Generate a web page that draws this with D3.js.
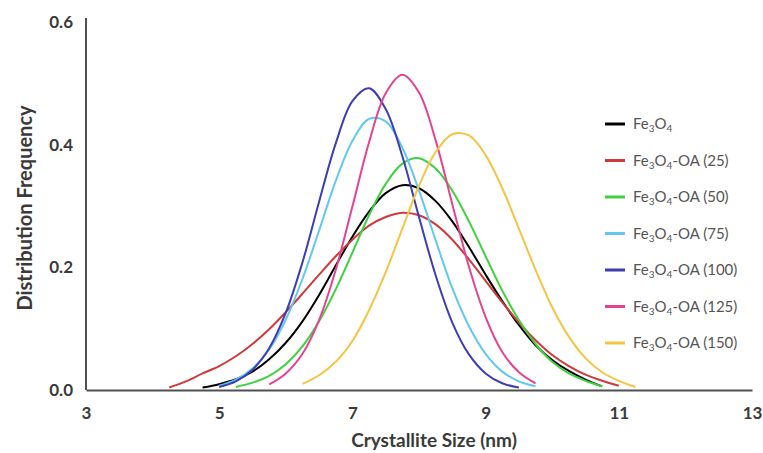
<!DOCTYPE html>
<html>
<head>
<meta charset="utf-8">
<script src="https://cdn.jsdelivr.net/npm/d3@7"></script>
<style>
  body { margin: 0; background: #fff; }
  text { font-family: Lato, "Open Sans", sans-serif; }
</style>
</head>
<body>
<div id="container"></div>
<script>
/* CONSTANTS AND GLOBALS */
const width = 763;
const height = 453;
const margin = {top: 22, bottom: 63, left: 86, right: 10};

/* DATA */
const sizes = [4.25, 4.5, 4.75, 5, 5.25, 5.5, 5.75, 6, 6.25, 6.5, 6.75, 7, 7.25, 7.5, 7.75,
  8, 8.25, 8.5, 8.75, 9, 9.25, 9.5, 9.75, 10, 10.25, 10.5, 10.75, 11, 11.25];

const fe3o4 = [null, null, .004, .0095, .0175, .030, .050, .077, .112, .155, .203, .250, .291, .321, .334,
  .329, .308, .275, .233, .188, .145, .106, .073, .049, .031, .017, .006, null, null];
const oa25 = [.004, .014, .027, .039, .055, .075, .099, .127, .157, .188, .218, .245, .268, .282, .289,
  .285, .270, .245, .213, .178, .143, .110, .081, .057, .039, .025, .015, .007, null];
const oa50 = [null, null, null, null, .005, .012, .023, .042, .071, .112, .164, .224, .285, .336, .369,
  .378, .361, .325, .275, .218, .162, .114, .075, .046, .027, .015, .006, null, null];
const oa75 = [null, null, null, .007, .017, .035, .066, .115, .181, .260, .341, .406, .442, .438, .395,
  .325, .244, .166, .104, .059, .030, .014, .006, null, null, null, null, null, null];
const oa100 = [null, null, null, .005, .014, .033, .068, .126, .208, .307, .402, .471, .492, .458, .381,
  .282, .187, .110, .058, .027, .011, .004, null, null, null, null, null, null, null];
const oa125 = [null, null, null, null, null, null, .009, .027, .059, .114, .196, .299, .404, .484, .514,
  .485, .407, .303, .201, .119, .062, .029, .011, null, null, null, null, null, null];
const oa150 = [null, null, null, null, null, null, null, null, .010, .024, .046, .080, .130, .192, .263,
  .333, .388, .417, .415, .383, .329, .263, .196, .135, .087, .052, .029, .015, .005];

const seriesNames = ["", "-OA (25)", "-OA (50)", "-OA (75)", "-OA (100)", "-OA (125)", "-OA (150)"];
const seriesValues = [fe3o4, oa25, oa50, oa75, oa100, oa125, oa150];
const colors = ["#000000", "#d03a3a", "#3fd03f", "#62c8f2", "#3d3db4", "#e4448f", "#f4c443"];

const xTicks = [3, 5, 7, 9, 11, 13];
const yTicks = [0, 0.2, 0.4, 0.6];

/* SCALES */
const xScale = d3.scaleLinear()
  .domain([3, 13])
  .range([margin.left, width - margin.right - 1]);

const yScale = d3.scaleLinear()
  .domain([0, 0.6])
  .range([height - margin.bottom, margin.top]);

/* SVG */
const svg = d3.select("#container")
  .append("svg")
  .attr("width", width)
  .attr("height", height)
  .style("background-color", "white");

// axes
const xAxisGroup = svg.append("g")
  .attr("transform", `translate(0,${height - margin.bottom})`)
  .call(d3.axisBottom(xScale).tickValues(xTicks).tickSize(0).tickPadding(17).tickFormat(d3.format("d")));

const yAxisGroup = svg.append("g")
  .attr("transform", `translate(${margin.left},0)`)
  .call(d3.axisLeft(yScale).tickValues(yTicks).tickSize(0).tickPadding(13).tickFormat(d3.format(".1f")));

[xAxisGroup, yAxisGroup].forEach(g => {
  g.select(".domain").attr("stroke", "#505050").attr("stroke-width", 2);
  g.selectAll("text")
    .attr("fill", "#3a3a3a")
    .style("font-size", "17px")
    .style("font-weight", "bold");
});
yAxisGroup.select(".domain").attr("d", `M0,${yScale(0)}V${margin.top - 4}`);

// axis titles
svg.append("text")
  .attr("x", 434)
  .attr("y", 447)
  .attr("text-anchor", "middle")
  .attr("fill", "#3a3a3a")
  .style("font-size", "19px")
  .style("font-weight", "bold")
  .text("Crystallite Size (nm)");

svg.append("text")
  .attr("transform", "translate(32,208) rotate(-90)")
  .attr("text-anchor", "middle")
  .attr("fill", "#3a3a3a")
  .style("font-size", "20px")
  .style("font-weight", "bold")
  .text("Distribution Frequency");

// curves
const line = d3.line()
  .defined(d => d[1] != null)
  .x(d => xScale(d[0]))
  .y(d => yScale(d[1]))
  .curve(d3.curveCatmullRom.alpha(0.5));

svg.selectAll("path.curve")
  .data(seriesValues)
  .join("path")
  .attr("class", "curve")
  .attr("fill", "none")
  .attr("stroke", (d, i) => colors[i])
  .attr("stroke-width", 2)
  .attr("d", vals => line(sizes.map((x, j) => [x, vals[j]])));

// legend
const legend = svg.append("g")
  .attr("transform", "translate(605,124)");

const items = legend.selectAll("g.item")
  .data(seriesNames)
  .join("g")
  .attr("class", "item")
  .attr("transform", (d, i) => `translate(0,${i * 36.5})`);

items.append("line")
  .attr("x1", 0).attr("x2", 20)
  .attr("stroke", (d, i) => colors[i])
  .attr("stroke-width", 3);

const labels = items.append("text")
  .attr("x", 28)
  .attr("dy", "0.35em")
  .attr("fill", "#555555")
  .style("font-size", "15px");

labels.append("tspan").text("Fe");
labels.append("tspan").attr("dy", 3).style("font-size", "10px").text("3");
labels.append("tspan").attr("dy", -3).text("O");
labels.append("tspan").attr("dy", 3).style("font-size", "10px").text("4");
labels.append("tspan").attr("dy", -3).text(d => d);
</script>
</body>
</html>
